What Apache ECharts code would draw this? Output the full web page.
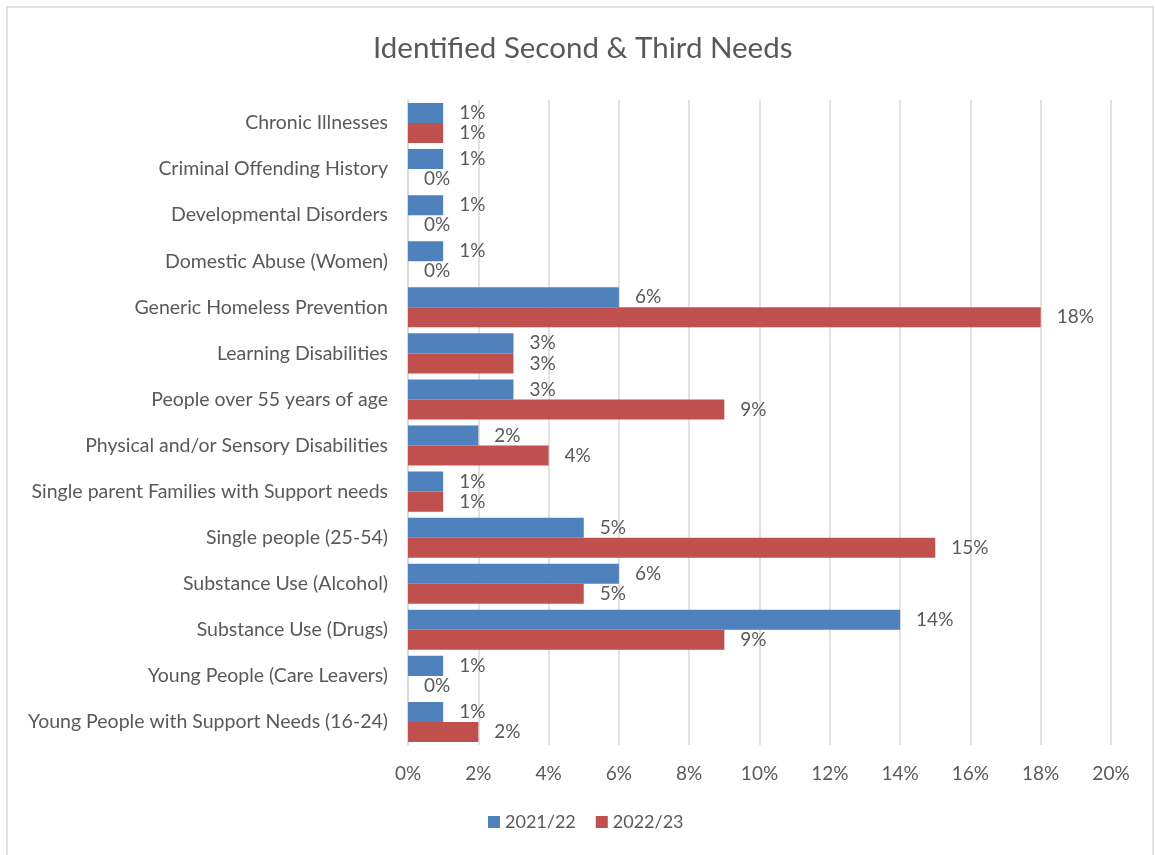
<!DOCTYPE html>
<html>
<head>
<meta charset="utf-8">
<script src="https://cdn.jsdelivr.net/npm/echarts@6/dist/echarts.min.js"></script>
<style>
  html, body { margin: 0; padding: 0; background: #fff; }
  #chart { width: 1155px; height: 855px; }
</style>
</head>
<body>
<div id="chart"></div>
<script>
// Support needs, listed top to bottom
const categories = [
  'Chronic Illnesses',
  'Criminal Offending History',
  'Developmental Disorders',
  'Domestic Abuse (Women)',
  'Generic Homeless Prevention',
  'Learning Disabilities',
  'People over 55 years of age',
  'Physical and/or Sensory Disabilities',
  'Single parent Families with Support needs',
  'Single people (25-54)',
  'Substance Use (Alcohol)',
  'Substance Use (Drugs)',
  'Young People (Care Leavers)',
  'Young People with Support Needs (16-24)'
];
// Share of identified needs, in percent
const values2021 = [1, 1, 1, 1, 6, 3, 3, 2, 1, 5, 6, 14, 1, 1];
const values2022 = [1, 0, 0, 0, 18, 3, 9, 4, 1, 15, 5, 9, 0, 2];
const seriesNames = ['2021/22', '2022/23'];

const FONT = 'Lato, "Open Sans", sans-serif';
const TEXT = '#595959';

const chart = echarts.init(document.getElementById('chart'));

function barSeries(name, data, color) {
  return {
    name: name,
    type: 'bar',
    data: data,
    barGap: '0%',
    barCategoryGap: '13%',
    itemStyle: { color: color },
    label: {
      show: true,
      position: 'right',
      distance: 16,
      formatter: p => p.value + '%',
      color: TEXT,
      fontFamily: FONT,
      fontSize: 19
    }
  };
}

chart.setOption({
  animation: false,
  backgroundColor: '#fff',
  graphic: [{
    type: 'rect',
    shape: { x: 7, y: 7, width: 1146, height: 860 },
    style: { fill: 'none', stroke: '#d9d9d9', lineWidth: 1.5 },
    silent: true
  }],
  title: {
    text: 'Identified Second & Third Needs',
    left: 368,
    top: 28,
    textStyle: { color: TEXT, fontFamily: FONT, fontSize: 29.5, fontWeight: 'normal' }
  },
  legend: {
    bottom: 19,
    left: 483,
    itemWidth: 12,
    itemHeight: 12,
    itemGap: 20,
    icon: 'rect',
    textStyle: { color: TEXT, fontFamily: FONT, fontSize: 18 },
    data: seriesNames
  },
  grid: { left: 408, right: 44, top: 100, bottom: 110, containLabel: false },
  xAxis: {
    type: 'value',
    min: 0,
    max: 20,
    interval: 2,
    axisLine: { show: false },
    axisTick: { show: false },
    axisLabel: {
      formatter: '{value}%',
      color: TEXT,
      fontFamily: FONT,
      fontSize: 19,
      margin: 19
    },
    splitLine: { lineStyle: { color: '#d9d9d9', width: 1.5 } }
  },
  yAxis: {
    type: 'category',
    data: categories,
    inverse: true,
    axisLine: { show: true, lineStyle: { color: '#d9d9d9', width: 1.5 } },
    axisTick: { show: false },
    axisLabel: { color: TEXT, fontFamily: FONT, fontSize: 19.5, margin: 20 }
  },
  series: [
    barSeries(seriesNames[0], values2021, '#4F81BD'),
    barSeries(seriesNames[1], values2022, '#C0504D')
  ]
});
</script>
</body>
</html>
